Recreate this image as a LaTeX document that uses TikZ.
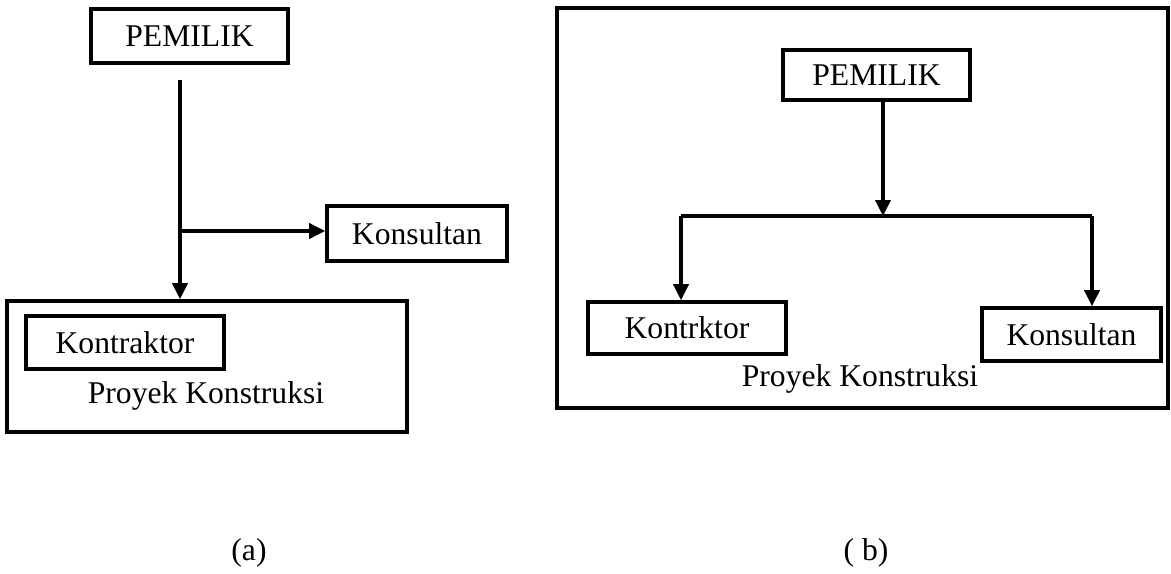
\documentclass[tikz,border=0pt]{standalone}
\usepackage{fontspec}
\setmainfont{Liberation Serif}
\usepackage{tikz}
\usetikzlibrary{arrows.meta}

\begin{document}
\begin{tikzpicture}[
    font=\fontsize{18}{20}\selectfont,
    line width=2pt,
    box/.style={draw, inner sep=0pt},
    link/.style={-{Triangle[length=0.32cm, width=0.3cm]}}
  ]
    \useasboundingbox (0, 0) rectangle (23.42, -11.46);
    \begin{scope} % Model (a)
        \node [box, minimum width=3.94cm, minimum height=1.08cm] (pemilikA) at (3.79, -0.72) {PEMILIK};
        \node [box, minimum width=8.0cm, minimum height=2.62cm] (proyekA) at (4.14, -7.33) {};
        \node [box, minimum width=3.96cm, minimum height=1.06cm] (kontraktor) at (2.5, -6.85) {Kontraktor\hspace{0.3cm}};
        \node [box, minimum width=3.6cm, minimum height=1.1cm] (konsultanA) at (8.34, -4.67) {Konsultan};
        \node [anchor=base] (labelA) at (4.12, -8.06) {Proyek Konstruksi};
        \coordinate (startA) at (3.6, -1.6);
        \coordinate (branchA) at (3.6, -4.62);
        \draw [link] (startA) -- (startA |- proyekA.north);
        \draw [link] (branchA) -- (branchA -| konsultanA.west);
        \node (capA) at (4.98, -11.06) {(a)};
    \end{scope}
    \begin{scope} % Model (b)
        \node [box, minimum width=12.22cm, minimum height=8.0cm] (proyekB) at (17.25, -4.16) {};
        \node [box, minimum width=3.74cm, minimum height=1.0cm] (pemilikB) at (17.53, -1.5) {PEMILIK};
        \node [box, minimum width=3.96cm, minimum height=1.04cm] (kontrktor) at (13.74, -6.56) {Kontrktor};
        \node [box, minimum width=3.58cm, minimum height=1.06cm] (konsultanB) at (21.43, -6.69) {Konsultan};
        \node [anchor=base] (labelB) at (17.2, -7.72) {Proyek Konstruksi};
        \coordinate (splitB) at (17.66, -4.32);
        \coordinate (legL) at (13.62, -4.32);
        \coordinate (legR) at (21.84, -4.32);
        \draw [link] (pemilikB.south -| splitB) -- (splitB);
        \draw (legL) -- (legR);
        \draw [link] (legL) -- (legL |- kontrktor.north);
        \draw [link] (legR) -- (legR |- konsultanB.north);
        \node (capB) at (17.32, -11.06) {( b)};
    \end{scope}
\end{tikzpicture}
\end{document}
